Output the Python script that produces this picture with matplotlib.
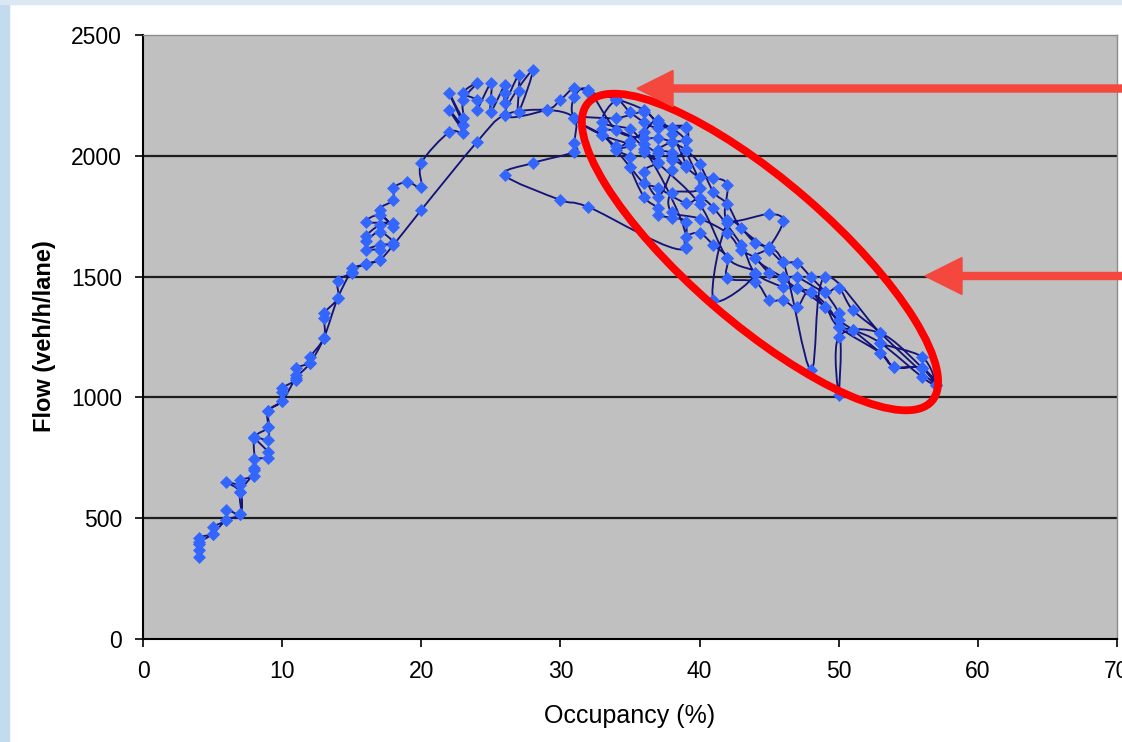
import matplotlib
matplotlib.use('Agg')
import matplotlib.pyplot as plt
import numpy as np
from matplotlib.path import Path
from matplotlib.patches import PathPatch, Ellipse, FancyArrow, Rectangle
from matplotlib.transforms import Affine2D

plt.rcParams['font.family'] = ['Liberation Sans', 'DejaVu Sans']

# утро: рост потока в свободном режиме
rise_occ = [4, 4, 4, 4, 5, 5, 6, 6, 7, 7, 6, 7, 7, 8, 8, 8, 9, 9, 8, 9, 9, 9, 10, 10, 10,
            11, 11, 11, 12, 12, 13, 13, 13, 14, 14, 15, 15, 16, 17, 17, 16, 17, 18, 17, 16,
            16, 17, 18, 16, 17, 18, 17, 18, 18, 19, 20, 20, 22, 23, 22, 23, 22, 23, 23, 24,
            23, 24, 24, 25, 25, 25, 26, 26, 26, 27, 27, 27, 28, 26, 29, 30]
rise_flow = [340, 370, 395, 420, 435, 463, 493, 535, 518, 608, 650, 637, 658, 675, 708, 745,
             750, 774, 836, 824, 877, 944, 985, 1022, 1039, 1072, 1093, 1122, 1142, 1167,
             1246, 1329, 1350, 1411, 1482, 1515, 1535, 1552, 1569, 1610, 1610, 1631, 1639,
             1685, 1648, 1668, 1713, 1722, 1726, 1755, 1705, 1776, 1817, 1867, 1892, 1871,
             1970, 2098, 2094, 2190, 2127, 2260, 2156, 2231, 2301, 2260, 2231, 2190, 2301,
             2231, 2181, 2293, 2260, 2218, 2335, 2268, 2181, 2355, 2169, 2190, 2231]

# затор: несколько петель вдоль перегруженной ветви
jam1_occ = [31, 32, 34, 36, 37, 38, 39, 39, 38, 37, 38, 39, 40, 41, 42, 42, 45, 46, 45, 44,
            46, 47, 49, 50, 51, 53, 53, 56, 57,
            56, 54, 53, 50, 49, 47, 46, 44, 43, 41, 40, 39, 37, 36, 35, 34, 33, 31, 31, 32]
jam1_flow = [2281, 2264, 2235, 2190, 2136, 2115, 2115, 2065, 2057, 2024, 2012, 1954, 1912,
             1908, 1879, 1734, 1759, 1730, 1622, 1577, 1498, 1498, 1436, 1453, 1362, 1266,
             1225, 1167, 1051,
             1122, 1126, 1184, 1291, 1374, 1453, 1457, 1515, 1631, 1784, 1825, 1805, 1867,
             1887, 1954, 2024, 2086, 2156, 2243, 2272]

jam2_occ = [34, 36, 37, 38, 39, 40, 41, 42, 43, 45, 46, 47, 48, 49, 50, 50, 51, 53, 56, 57,
            56, 53, 50, 50, 50, 48, 47, 46, 45, 44, 42, 42, 41, 40, 39, 39, 39, 38, 37, 37,
            36, 35, 35, 34, 35, 33, 31]
jam2_flow = [2107, 2074, 2074, 2057, 2024, 1966, 1850, 1800, 1700, 1610, 1560, 1556, 1498,
             1436, 1349, 1291, 1279, 1225, 1084, 1051,
             1122, 1266, 1250, 1010, 1291, 1436, 1374, 1403, 1403, 1478, 1494, 1577, 1631,
             1680, 1664, 1622, 1726, 1743, 1755, 1784, 1830, 1954, 1995, 2024, 2045, 2086,
             2156]

jam3_occ = [34, 36, 37, 38, 39, 39, 40, 38, 38, 40, 42, 43, 44, 45, 46, 47, 48, 49, 50, 51,
            53, 54, 56, 57,
            53, 49, 48, 46, 44, 42, 41, 44, 42, 40, 37, 36, 37, 36, 37, 38, 38, 39, 39, 37,
            36, 35, 34,
            33, 35, 36, 37, 38, 39, 38, 37, 36, 35, 34, 33,
            36, 39, 32, 30, 26, 28, 31, 31, 31]
jam3_flow = [2156, 2181, 2136, 2115, 2065, 2024, 1867, 1846, 1767, 1740, 1680, 1610, 1577,
             1515, 1490, 1453, 1436, 1374, 1320, 1279, 1184, 1126, 1122, 1051,
             1266, 1498, 1114, 1560, 1640, 1720, 1403, 1510, 1577, 1800, 1970, 2016, 1974,
             1933, 1830, 1941, 1983, 2024, 2120, 2115, 2140, 2180, 2230,
             2140, 2110, 2050, 2010, 1990, 1960, 2090, 2150, 2100, 2060, 2040, 2110,
             2030, 1618, 1788, 1817, 1920, 1970, 2016, 2053, 2156]

# вечер: возврат в свободный режим
back_occ = [29, 26, 24, 20, 18, 17, 16, 15, 14, 13, 12, 11, 10, 9, 9, 8, 8, 7, 7, 6, 5, 4]
back_flow = [2190, 2169, 2057, 1776, 1631, 1569, 1552, 1520, 1411, 1246, 1142, 1080, 985,
             944, 877, 830, 700, 608, 518, 493, 435, 400]

x_ticks = [0, 10, 20, 30, 40, 50, 60, 70]
y_ticks = [0, 500, 1000, 1500, 2000, 2500]

occ = np.array(rise_occ + jam1_occ + jam2_occ + jam3_occ + back_occ, dtype=float)
flow = np.array(rise_flow + jam1_flow + jam2_flow + jam3_flow + back_flow, dtype=float)

W, H = 1122, 742
fig = plt.figure(figsize=(W / 100, H / 100), dpi=100)
fig.patch.set_facecolor('white')

# пиксельные координаты для оформления слайда
pix = Affine2D().scale(1 / W, -1 / H).translate(0, 1) + fig.transFigure
fig.add_artist(Rectangle((0, 0), 9, H, transform=pix, color='#c3dbef', zorder=0))
fig.add_artist(Rectangle((0, 0), W, 4, transform=pix, color='#dbe8f3', zorder=0))

ax = fig.add_axes([143 / W, 103 / H, 974 / W, 604 / H])
ax.set_facecolor('#c0c0c0')

# сглаженная линия как в Excel
pts = np.column_stack([occ, flow])
padded = np.vstack([pts[0], pts, pts[-1]])
verts = [pts[0]]
codes = [Path.MOVETO]
for i in range(len(pts) - 1):
    p0, p1, p2, p3 = padded[i], padded[i + 1], padded[i + 2], padded[i + 3]
    verts += [p1 + (p2 - p0) / 6, p2 - (p3 - p1) / 6, p2]
    codes += [Path.CURVE4] * 3
ax.add_patch(PathPatch(Path(verts, codes), facecolor='none', edgecolor='#14147a',
                       lw=1.35, zorder=3))
ax.plot(occ, flow, linestyle='none', marker='D', ms=6.5, color='#3366ff',
        mec='#3366ff', mew=0.5, zorder=4)

ax.set_xlim(0, 70)
ax.set_ylim(0, 2500)
ax.set_xticks(x_ticks)
ax.set_yticks(y_ticks)
ax.tick_params(direction='out', length=6, width=1.2, labelsize=16.5, pad=9, colors='black')
for v in y_ticks[1:-1]:
    ax.axhline(v, color='#1e1e1e', lw=1.6, zorder=1)
for s in ['left', 'bottom']:
    ax.spines[s].set_color('black')
    ax.spines[s].set_linewidth(1.5)
for s in ['top', 'right']:
    ax.spines[s].set_color('#8c8c8c')
    ax.spines[s].set_linewidth(1.0)

ax.set_xlabel('Occupancy (%)', fontsize=18)
ax.xaxis.set_label_coords(0.5, -0.1275)
ax.xaxis.label.set_va('center')
ax.set_ylabel('Flow (veh/h/lane)', fontsize=17, fontweight='bold')
ax.yaxis.set_label_coords(-0.101, 0.502)
ax.yaxis.label.set_va('center')

# красный эллипс и стрелки
fig.add_artist(Ellipse((760, 252), 455, 142, angle=40.9, fill=False, ec='#ff0000',
                       lw=5.6, transform=pix, zorder=6))
arrow_col = '#f4473e'
fig.add_artist(FancyArrow(1135, 88.5, 637 - 1135, 0, width=7, head_width=36,
                          head_length=36, length_includes_head=True, color=arrow_col,
                          transform=pix, zorder=6))
fig.add_artist(FancyArrow(1135, 276, 925 - 1135, 0, width=7, head_width=37,
                          head_length=37, length_includes_head=True, color=arrow_col,
                          transform=pix, zorder=6))

fig.savefig('out.png', dpi=100)
